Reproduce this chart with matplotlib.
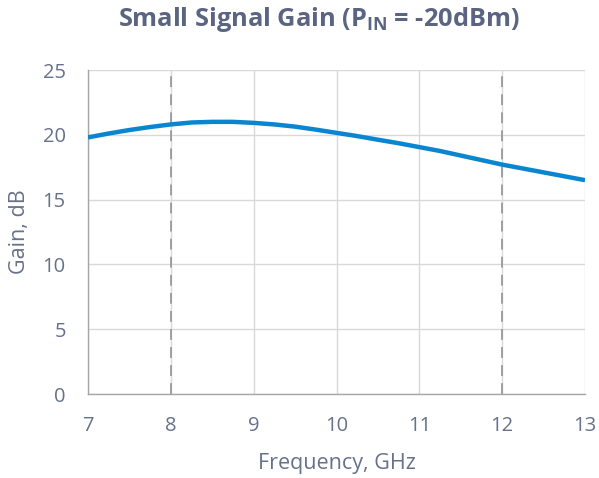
import matplotlib
matplotlib.use("Agg")
import matplotlib.pyplot as plt

# data
freq_ghz = [7.0, 7.25, 7.5, 7.75, 8.0, 8.25, 8.5, 8.75, 9.0, 9.25, 9.5, 9.75,
            10.0, 10.25, 10.5, 10.75, 11.0, 11.25, 11.5, 11.75, 12.0, 12.25,
            12.5, 12.75, 13.0]
gain_db = [19.8, 20.1, 20.37, 20.6, 20.8, 20.95, 21.0, 21.0, 20.92, 20.8, 20.63,
           20.4, 20.15, 19.9, 19.62, 19.35, 19.05, 18.75, 18.4, 18.05, 17.7,
           17.4, 17.1, 16.8, 16.5]
band_edges = [8, 12]
x_ticks = [7, 8, 9, 10, 11, 12, 13]
y_ticks = [0, 5, 10, 15, 20, 25]

text_color = "#5b6582"
tick_color = "#67718b"
line_color = "#0a85d0"

plt.rcParams["font.family"] = ["Open Sans", "DejaVu Sans"]

fig = plt.figure(figsize=(5.99, 4.78), dpi=100)
ax = fig.add_axes([88 / 599, 1 - 394 / 478, (585 - 88) / 599, (394 - 70) / 478])

ax.plot(freq_ghz, gain_db, color=line_color, linewidth=3.2,
        solid_capstyle="butt", solid_joinstyle="round", zorder=3)
for xb in band_edges:
    ax.axvline(xb, color="#999999", linestyle=(0, (6, 4)), linewidth=1.3, zorder=2)

ax.set_xlim(7, 13)
ax.set_ylim(0, 25)
ax.set_xticks(x_ticks)
ax.set_yticks(y_ticks)
ax.grid(True, color="#d9d9d9", linewidth=1)
ax.set_axisbelow(True)

for s in ["top", "right"]:
    ax.spines[s].set_visible(False)
for s in ["left", "bottom"]:
    ax.spines[s].set_color("#a6a6a6")
    ax.spines[s].set_linewidth(1)

ax.tick_params(length=0, labelsize=14.5, labelcolor=tick_color)
ax.tick_params(axis="y", pad=16)
ax.tick_params(axis="x", pad=16)
ax.set_xlabel("Frequency, GHz", fontsize=15.5, color=tick_color)
ax.set_ylabel("Gain, dB", fontsize=15.5, color=tick_color)
ax.xaxis.set_label_coords(0.5, (1 - 463 / 478 - ax.get_position().y0) / ax.get_position().height)
ax.yaxis.set_label_coords((19 / 599 - ax.get_position().x0) / ax.get_position().width, 0.5)
ax.xaxis.label.set_va("center")
ax.yaxis.label.set_va("center")

fig.text(319 / 599, 1 - 20 / 478, r"Small Signal Gain (P$_{\mathregular{IN}}$ = -20dBm)",
         ha="center", va="center", fontsize=18.3, fontweight="bold", color=text_color)

fig.savefig("out.png", dpi=100)
